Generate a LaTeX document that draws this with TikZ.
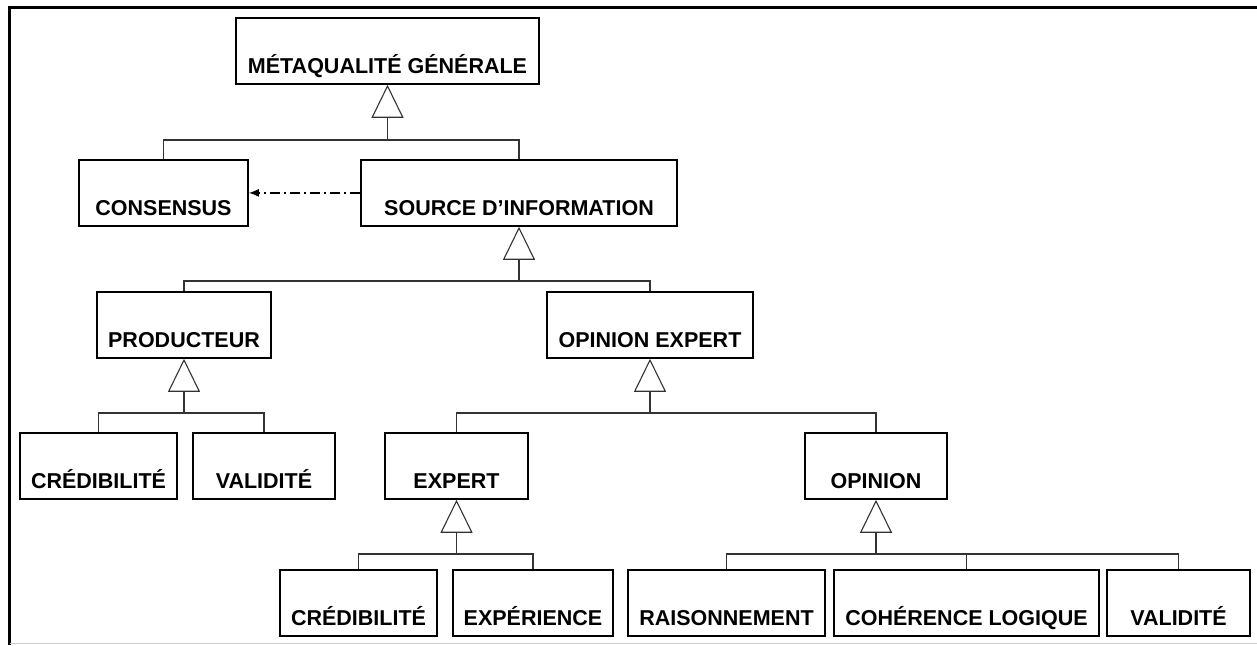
\documentclass[tikz,border=0pt]{standalone}
\usepackage{fontspec}
\setmainfont{Liberation Sans}
\usetikzlibrary{arrows.meta}

\tikzset{
  classbox/.style={draw, line width=1.8pt, inner xsep=0pt, inner ysep=0pt,
    text height=56pt, text depth=10pt, minimum width=#1, anchor=north,
    font=\bfseries\fontsize{21.5}{24}\selectfont},
  link/.style={draw=black!80, line width=1.2pt},
  inherit/.style={link, -{Triangle[open, length=33pt, width=32pt, line width=1.1pt]}},
  depends/.style={draw=black, line width=1.2pt,
    dash pattern=on 10pt off 4pt on 2pt off 4pt,
    -{Latex[length=10pt, width=8pt]}},
  frameline/.style={line width=3pt, black}
}

\begin{document}
\begin{tikzpicture}[x=1pt, y=-1pt]
  \useasboundingbox (0,0) rectangle (1257,645);

  % frame
  \draw[frameline] (9,6) -- (9,645);
  \draw[frameline] (7.5,7.5) -- (1257,7.5);
  \draw[black!20, line width=1pt] (10,643) -- (1257,643);

  % classes
  \node[classbox=303pt] (meta)  at (387.5,17)  {MÉTAQUALITÉ GÉNÉRALE};
  \node[classbox=169pt] (cons)  at (163.5,159) {CONSENSUS};
  \node[classbox=316pt] (src)   at (519,159)   {SOURCE D’INFORMATION};
  \node[classbox=174pt] (prod)  at (184,291)   {PRODUCTEUR};
  \node[classbox=206pt] (opexp) at (650,291)   {OPINION EXPERT};
  \node[classbox=157pt] (cred1) at (98.5,432)  {CRÉDIBILITÉ};
  \node[classbox=142pt] (val1)  at (264,432)   {VALIDITÉ};
  \node[classbox=143pt] (exp)   at (456.5,432) {EXPERT};
  \node[classbox=142pt] (opi)   at (876,432)   {OPINION};
  \node[classbox=157pt] (cred2) at (358.5,569) {CRÉDIBILITÉ};
  \node[classbox=160pt] (xp)    at (533,569)   {EXPÉRIENCE};
  \node[classbox=197pt] (rais)  at (726.5,569) {RAISONNEMENT};
  \node[classbox=265pt] (coh)   at (966.5,569) {COHÉRENCE LOGIQUE};
  \node[classbox=143pt] (val2)  at (1178.5,569){VALIDITÉ};

  % junction points of the inheritance trees
  \coordinate (jmeta) at (387.5,140);
  \coordinate (jsrc)  at (519,281);
  \coordinate (jprod) at (184,413);
  \coordinate (jopx)  at (650,413);
  \coordinate (jexp)  at (456.5,554);
  \coordinate (jopi)  at (876,554);

  % generalisation arrows
  \draw[inherit] (jmeta) -- (meta.south);
  \draw[inherit] (jsrc)  -- (src.south);
  \draw[inherit] (jprod) -- (prod.south);
  \draw[inherit] (jopx)  -- (opexp.south);
  \draw[inherit] (jexp)  -- (exp.south);
  \draw[inherit] (jopi)  -- (opi.south);

  % branches to the subclasses
  \draw[link] (jmeta) -| (cons.north);
  \draw[link] (jmeta) -| (src.north);
  \draw[link] (jsrc)  -| (prod.north);
  \draw[link] (jsrc)  -| (opexp.north);
  \draw[link] (jprod) -| (cred1.north);
  \draw[link] (jprod) -| (val1.north);
  \draw[link] (jopx)  -| (exp.north);
  \draw[link] (jopx)  -| (opi.north);
  \draw[link] (jexp)  -| (cred2.north);
  \draw[link] (jexp)  -| (xp.north);
  \draw[link] (jopi)  -| (rais.north);
  \draw[link] (jopi)  -| (coh.north);
  \draw[link] (jopi)  -| (val2.north);

  % dependency
  \draw[depends] (src.west) -- (cons.east);
\end{tikzpicture}
\end{document}
